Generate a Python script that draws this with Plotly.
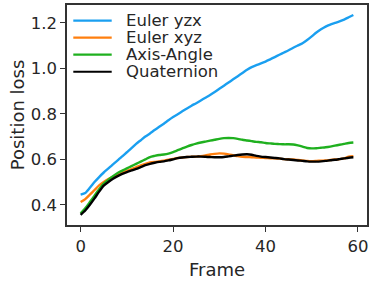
import plotly.graph_objects as go

frames = list(range(60))

euler_yzx = [
    0.445, 0.452, 0.475, 0.500, 0.522, 0.542, 0.560, 0.578, 0.595, 0.613,
    0.631, 0.649, 0.668, 0.684, 0.700, 0.714, 0.729, 0.743, 0.757, 0.772,
    0.786, 0.798, 0.811, 0.824, 0.836, 0.847, 0.859, 0.871, 0.883, 0.896,
    0.910, 0.924, 0.938, 0.952, 0.966, 0.980, 0.994, 1.006, 1.014, 1.022,
    1.030, 1.040, 1.050, 1.060, 1.070, 1.080, 1.091, 1.101, 1.111, 1.125,
    1.141, 1.158, 1.172, 1.184, 1.193, 1.200, 1.207, 1.215, 1.225, 1.235,
]
euler_xyz = [
    0.412, 0.425, 0.445, 0.465, 0.485, 0.500, 0.513, 0.523, 0.532, 0.541,
    0.549, 0.557, 0.565, 0.573, 0.580, 0.586, 0.589, 0.591, 0.594, 0.598,
    0.602, 0.606, 0.608, 0.610, 0.611, 0.612, 0.614, 0.617, 0.621, 0.624,
    0.626, 0.625, 0.622, 0.618, 0.614, 0.611, 0.610, 0.609, 0.608, 0.607,
    0.606, 0.605, 0.604, 0.603, 0.601, 0.600, 0.599, 0.597, 0.595, 0.593,
    0.592, 0.593, 0.594, 0.595, 0.597, 0.599, 0.601, 0.604, 0.612, 0.614,
]
axis_angle = [
    0.362, 0.385, 0.412, 0.440, 0.468, 0.493, 0.510, 0.526, 0.540, 0.550,
    0.560, 0.570, 0.580, 0.590, 0.600, 0.610, 0.615, 0.619, 0.621, 0.625,
    0.632, 0.640, 0.648, 0.656, 0.663, 0.669, 0.674, 0.678, 0.682, 0.686,
    0.690, 0.693, 0.694, 0.693, 0.690, 0.686, 0.683, 0.680, 0.677, 0.675,
    0.672, 0.670, 0.668, 0.667, 0.666, 0.666, 0.665, 0.661, 0.656, 0.650,
    0.648, 0.649, 0.651, 0.653, 0.656, 0.660, 0.664, 0.668, 0.672, 0.674,
]
quaternion = [
    0.356, 0.375, 0.400, 0.428, 0.458, 0.484, 0.500, 0.514, 0.526, 0.536,
    0.544, 0.551, 0.558, 0.566, 0.574, 0.580, 0.585, 0.589, 0.591, 0.595,
    0.600, 0.605, 0.608, 0.610, 0.611, 0.612, 0.612, 0.611, 0.610, 0.609,
    0.609, 0.610, 0.613, 0.616, 0.619, 0.621, 0.622, 0.620, 0.615, 0.612,
    0.610, 0.608, 0.606, 0.604, 0.601, 0.599, 0.597, 0.595, 0.593, 0.591,
    0.590, 0.590, 0.591, 0.593, 0.596, 0.598, 0.601, 0.604, 0.607, 0.609,
]

series = [
    ("Euler yzx", euler_yzx, "#1a9ff0"),
    ("Euler xyz", euler_xyz, "#ff7f0e"),
    ("Axis-Angle", axis_angle, "#1fb01f"),
    ("Quaternion", quaternion, "#000000"),
]

font = "DejaVu Sans"
text_color = "#262626"

fig = go.Figure()
for name, vals, color in series:
    fig.add_trace(
        go.Scatter(
            x=frames,
            y=vals,
            mode="lines",
            name=name,
            showlegend=False,
            line=dict(color=color, width=2.4, shape="spline", smoothing=0.6),
        )
    )

# legend drawn by hand: plotly's own rows are too tall for this compact layout
legend_y0 = 0.929
legend_step = 0.0775
for i, (name, _, color) in enumerate(series):
    ly = legend_y0 - i * legend_step
    fig.add_shape(
        type="line", xref="paper", yref="paper",
        x0=0.021, x1=0.149, y0=ly, y1=ly,
        line=dict(color=color, width=2.2),
    )
    fig.add_annotation(
        text=name, xref="paper", yref="paper",
        x=0.193, y=ly, xanchor="left", yanchor="middle",
        showarrow=False, borderpad=0,
        font=dict(family=font, size=16.5, color=text_color),
    )

axis_common = dict(
    showline=True,
    mirror=True,
    linecolor="#333333",
    linewidth=1.5,
    ticks="outside",
    ticklen=5,
    tickwidth=1.2,
    tickcolor="#333333",
    showgrid=False,
    zeroline=False,
    automargin=False,
    tickfont=dict(family=font, size=16.5, color=text_color),
    title_font=dict(family=font, size=18, color=text_color),
)

fig.update_xaxes(
    range=[-2.95, 61.95],
    tickvals=[0, 20, 40, 60],
    title_text="Frame",
    title_standoff=9,
    **axis_common,
)
fig.update_yaxes(
    range=[0.311, 1.279],
    tickvals=[0.4, 0.6, 0.8, 1.0, 1.2],
    tickformat=".1f",
    title_text="Position loss",
    title_standoff=1,
    **axis_common,
)

fig.update_layout(
    width=373,
    height=281,
    margin=dict(l=67, r=6, t=5, b=56, autoexpand=False),
    plot_bgcolor="white",
    paper_bgcolor="white",
    font=dict(family=font, color=text_color),
    showlegend=False,
)

# the page body has a default 8px margin that would push the chart off the window
fig.write_html(
    "out.html",
    config={"displayModeBar": False},
    post_script="document.body.style.margin='0';",
)
